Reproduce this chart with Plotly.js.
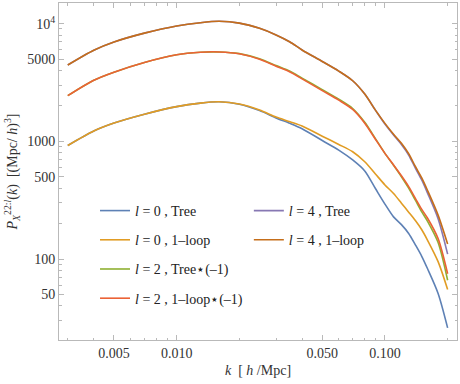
<!DOCTYPE html>
<html>
<head>
<meta charset="utf-8">
<script src="https://cdn.plot.ly/plotly-3.0.1.min.js"></script>
<style>
html, body { margin: 0; padding: 0; background: #ffffff; }
#chart { width: 460px; height: 384px; }
</style>
</head>
<body>
<div id="chart"></div>
<script>
// wavenumber grid [h/Mpc]
var k = [0.003, 0.004, 0.005, 0.007, 0.01, 0.013, 0.016, 0.02, 0.025, 0.03, 0.035, 0.04, 0.05,
         0.06, 0.07, 0.08, 0.09, 0.1, 0.11, 0.12, 0.13, 0.14, 0.15, 0.16, 0.18, 0.2];

// multipoles of P_X^{22:l}(k)  [(Mpc/h)^3]
var l0_tree = [921, 1223, 1429, 1700, 1972, 2112, 2166, 2065, 1825, 1580, 1420, 1279, 1016,
               842, 694, 560, 397, 293, 228, 196, 165, 132, 106, 83, 51, 26];
var l0_loop = [921, 1223, 1429, 1700, 1972, 2112, 2166, 2071, 1842, 1607, 1465, 1348, 1105,
               941, 815, 670, 528, 426, 360, 298, 250, 212, 178, 145, 95, 55];
var l2_tree = [2444, 3307, 3870, 4680, 5440, 5713, 5745, 5560, 5020, 4400, 3930, 3440, 2750,
               2280, 1900, 1450, 1055, 790, 625, 500, 400, 316, 253, 210, 138, 66];
var l2_loop = [2444, 3307, 3870, 4680, 5440, 5713, 5745, 5547, 4983, 4346, 3880, 3393, 2695,
               2235, 1864, 1426, 1042, 790, 630, 509, 412, 328, 265, 223, 149, 75];
var l4_tree = [4450, 5940, 6980, 8300, 9550, 10180, 10460, 10100, 9110, 8010, 6980, 5970, 4770,
               3950, 3270, 2520, 1840, 1400, 1130, 940, 765, 592, 472, 365, 220, 110];
var l4_loop = [4450, 5940, 6980, 8300, 9550, 10180, 10460, 10100, 9110, 8010, 6980, 5970, 4770,
               3950, 3270, 2520, 1840, 1420, 1150, 962, 785, 611, 491, 384, 236, 134];

var names = ["<i>l</i> = 0 , Tree", "<i>l</i> = 0 , 1\u2013loop",
             "<i>l</i> = 2 , Tree\u22c6(\u20131)", "<i>l</i> = 2 , 1\u2013loop\u22c6(\u20131)",
             "<i>l</i> = 4 , Tree", "<i>l</i> = 4 , 1\u2013loop"];
var series = [l0_tree, l0_loop, l2_tree, l2_loop, l4_tree, l4_loop];
var colors = ["#5E81B5", "#E19C24", "#8FB032", "#EB6235", "#8778B3", "#C56E1A"];

// ticks
var xTickVals = [0.005, 0.01, 0.05, 0.1];
var xTickText = ["0.005", "0.010", "0.050", "0.100"];
var xMinor = [0.003, 0.004, 0.006, 0.007, 0.008, 0.009, 0.02, 0.03, 0.04, 0.06, 0.07, 0.08, 0.09, 0.2];
var yTickVals = [50, 100, 500, 1000, 5000, 10000];
var yTickText = ["50", "100", "500", "1000", "5000", "10<sup>4</sup>"];
var yMinor = [30, 40, 60, 70, 80, 90, 200, 300, 400, 600, 700, 800, 900, 2000, 3000, 4000,
              6000, 7000, 8000, 9000];

var font = "Liberation Serif, Times New Roman, DejaVu Serif, serif";
var frame = "#b9b9b9";

var traces = [];
for (var i = 0; i < series.length; i++) {
  traces.push({
    type: "scatter",
    mode: "lines",
    x: k,
    y: series[i],
    name: names[i],
    legend: i < 4 ? "legend" : "legend2",
    legendgroup: "g" + i,
    line: {color: colors[i], width: 1.6, shape: "spline", smoothing: 0.8}
  });
}

var legendStyle = {
  xanchor: "left", yanchor: "top",
  bgcolor: "rgba(0,0,0,0)",
  font: {family: font, size: 14, color: "#222"},
  traceorder: "grouped",
  tracegroupgap: 8
};

var layout = {
  width: 460,
  height: 384,
  margin: {l: 59, r: 3, t: 3, b: 44, autoexpand: false},
  paper_bgcolor: "#ffffff",
  plot_bgcolor: "#ffffff",
  font: {family: font, size: 14, color: "#333"},
  xaxis: {
    type: "log",
    range: [-2.565, -0.654],
    showgrid: false,
    zeroline: false,
    showline: true,
    linecolor: frame,
    linewidth: 1,
    mirror: "allticks",
    ticks: "inside",
    ticklen: 5,
    tickcolor: frame,
    tickmode: "array",
    tickvals: xTickVals,
    ticktext: xTickText,
    minor: {tickmode: "array", tickvals: xMinor, ticks: "inside", ticklen: 2.5, tickcolor: frame, showgrid: false},
    title: {text: "<i>k</i>  [ <i>h</i> /Mpc]", font: {family: font, size: 14, color: "#333"}, standoff: 5}
  },
  yaxis: {
    type: "log",
    range: [1.312, 4.175],
    showgrid: false,
    zeroline: false,
    showline: true,
    linecolor: frame,
    linewidth: 1,
    mirror: "allticks",
    ticks: "inside",
    ticklen: 5,
    tickcolor: frame,
    tickmode: "array",
    tickvals: yTickVals,
    ticktext: yTickText,
    minor: {tickmode: "array", tickvals: yMinor, ticks: "inside", ticklen: 2.5, tickcolor: frame, showgrid: false},
    title: {text: "<i>P</i><sub><i>X</i></sub><sup>22:<i>l</i></sup>(<i>k</i>)  [(Mpc/ <i>h</i>)<sup>3</sup>]",
            font: {family: font, size: 14, color: "#333"}, standoff: 6}
  },
  legend: Object.assign({x: 0.0905, y: 0.4303}, legendStyle),
  legend2: Object.assign({x: 0.477, y: 0.4303}, legendStyle),
  showlegend: true
};

Plotly.newPlot("chart", traces, layout, {displayModeBar: false, staticPlot: true});
</script>
</body>
</html>
